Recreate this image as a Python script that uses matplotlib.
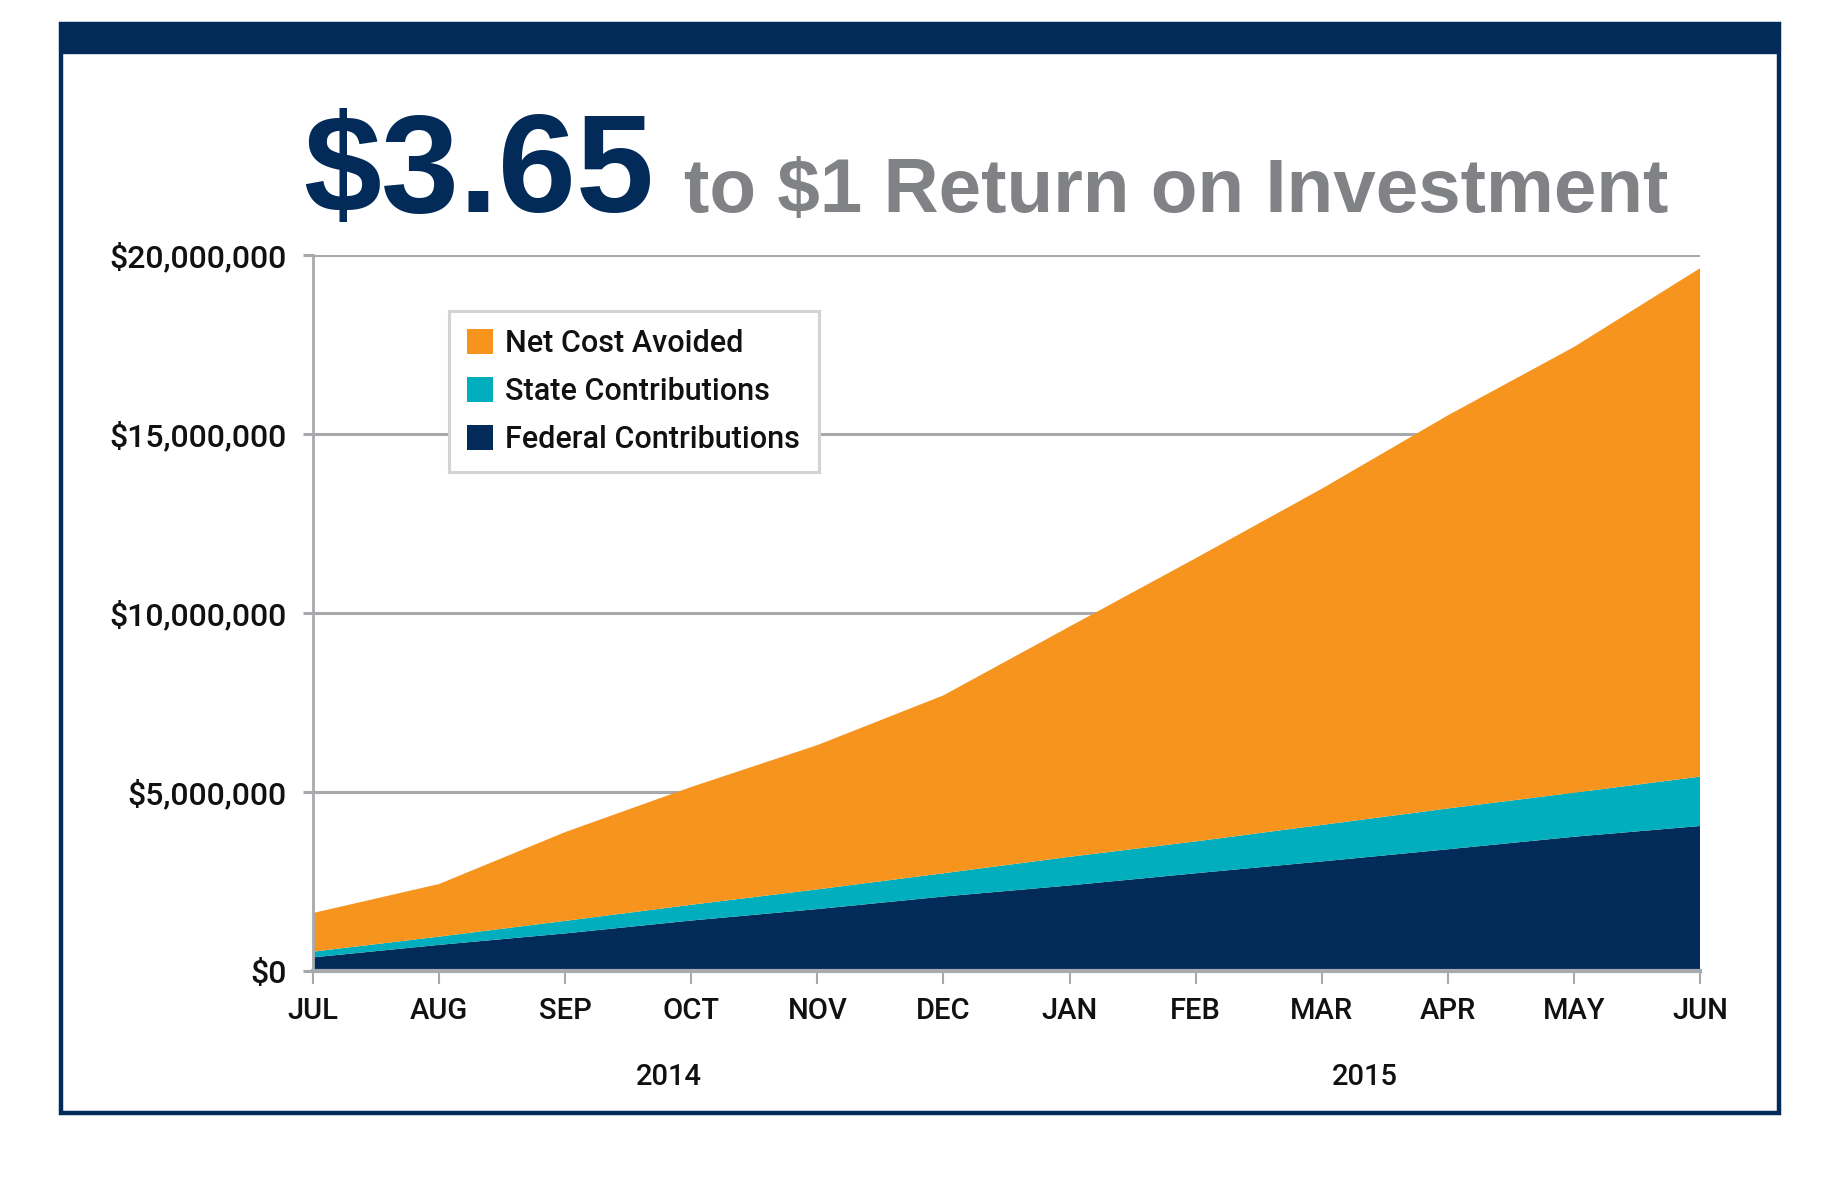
import matplotlib
matplotlib.use("Agg")
import matplotlib.pyplot as plt
from matplotlib.patches import Rectangle

plt.rcParams['font.family'] = ['Roboto', 'Liberation Sans', 'DejaVu Sans']
plt.rcParams['font.weight'] = 'medium'

months = ['JUL', 'AUG', 'SEP', 'OCT', 'NOV', 'DEC', 'JAN', 'FEB', 'MAR', 'APR', 'MAY', 'JUN']
years = ['2014', '2015']

# cumulative values (dollars, millions)
federal = [0.38, 0.73, 1.05, 1.41, 1.73, 2.08, 2.39, 2.73, 3.06, 3.40, 3.75, 4.05]
federal_plus_state = [0.54, 0.96, 1.40, 1.85, 2.28, 2.73, 3.19, 3.62, 4.08, 4.54, 4.98, 5.43]
total = [1.62, 2.43, 3.88, 5.14, 6.31, 7.70, 9.62, 11.53, 13.47, 15.52, 17.43, 19.63]

state = [a - b for a, b in zip(federal_plus_state, federal)]
net_cost = [a - b for a, b in zip(total, federal_plus_state)]

navy = '#032b5a'
teal = '#00aebd'
orange = '#f7941d'
grid_gray = '#a7a9ac'
title_gray = '#808285'

W, H = 1840, 1192
fig = plt.figure(figsize=(W / 100, H / 100), dpi=100)
fig.patch.set_facecolor('white')

# outer frame + top bar
fig.patches.append(Rectangle((61 / W, 1 - 1113 / H), (1779 - 61) / W, (1113 - 24) / H,
                             transform=fig.transFigure, fill=False, edgecolor=navy, linewidth=3.2))
fig.patches.append(Rectangle((61 / W, 1 - 53 / H), (1779 - 61) / W, (53 - 24) / H,
                             transform=fig.transFigure, facecolor=navy, edgecolor=navy, linewidth=1))

ax = fig.add_axes([313 / W, 1 - 971 / H, (1700 - 313) / W, (971 - 255) / H])
x = list(range(len(months)))
ys = [[v * 1e6 for v in federal], [v * 1e6 for v in state], [v * 1e6 for v in net_cost]]
polys = ax.stackplot(x, ys, colors=[navy, teal, orange],
                     labels=['Federal Contributions', 'State Contributions', 'Net Cost Avoided'],
                     zorder=2, linewidth=0)

ax.set_xlim(0, 11)
ax.set_ylim(0, 20e6)
ax.set_yticks([0, 5e6, 10e6, 15e6, 20e6])
ax.set_yticklabels(['$0', '$5,000,000', '$10,000,000', '$15,000,000', '$20,000,000'])
ax.set_xticks(x)
ax.set_xticklabels(months)

ax.grid(axis='y', color=grid_gray, linewidth=2.2, zorder=0)
ax.set_axisbelow(True)
for s in ['top', 'right']:
    ax.spines[s].set_visible(False)
ax.spines['left'].set_color(grid_gray)
ax.spines['left'].set_linewidth(2)
ax.spines['bottom'].set_color(grid_gray)
ax.spines['bottom'].set_linewidth(3)
ax.spines['bottom'].set_zorder(3)

ax.tick_params(axis='y', length=7, width=2.2, color=grid_gray, pad=12, labelsize=23)
ax.tick_params(axis='x', length=9.5, width=1.5, color=grid_gray, pad=9, labelsize=21)

for lab in ax.get_xticklabels() + ax.get_yticklabels():
    lab.set_color('#111111')

handles, labels = ax.get_legend_handles_labels()
leg = ax.legend(handles[::-1], labels[::-1], loc='upper left', bbox_to_anchor=(0.098, 0.922),
                borderaxespad=0, fontsize=22, frameon=True, fancybox=False,
                handlelength=0.85, handleheight=0.85, handletextpad=0.4,
                labelspacing=0.62, borderpad=0.6)
leg.get_frame().set_edgecolor('#d1d3d4')
leg.get_frame().set_linewidth(2.2)
leg.get_frame().set_facecolor('white')
leg.get_frame().set_alpha(1)
for t in leg.get_texts():
    t.set_color('#111111')

# year labels
fig.text(669 / W, 1 - 1077 / H, years[0], ha='center', va='center', fontsize=21, color='#111111')
fig.text(1365 / W, 1 - 1077 / H, years[1], ha='center', va='center', fontsize=21, color='#111111')

# title
fig.text(303 / W, 1 - 212 / H, '$3.65', ha='left', va='baseline', fontsize=101,
         fontweight='bold', color=navy, family=['Liberation Sans', 'DejaVu Sans'])
fig.text(684 / W, 1 - 212 / H, 'to $1 Return on Investment', ha='left', va='baseline',
         fontsize=55, fontweight='bold', color=title_gray, family=['Liberation Sans', 'DejaVu Sans'])

fig.savefig('out.png', dpi=100, facecolor='white')
